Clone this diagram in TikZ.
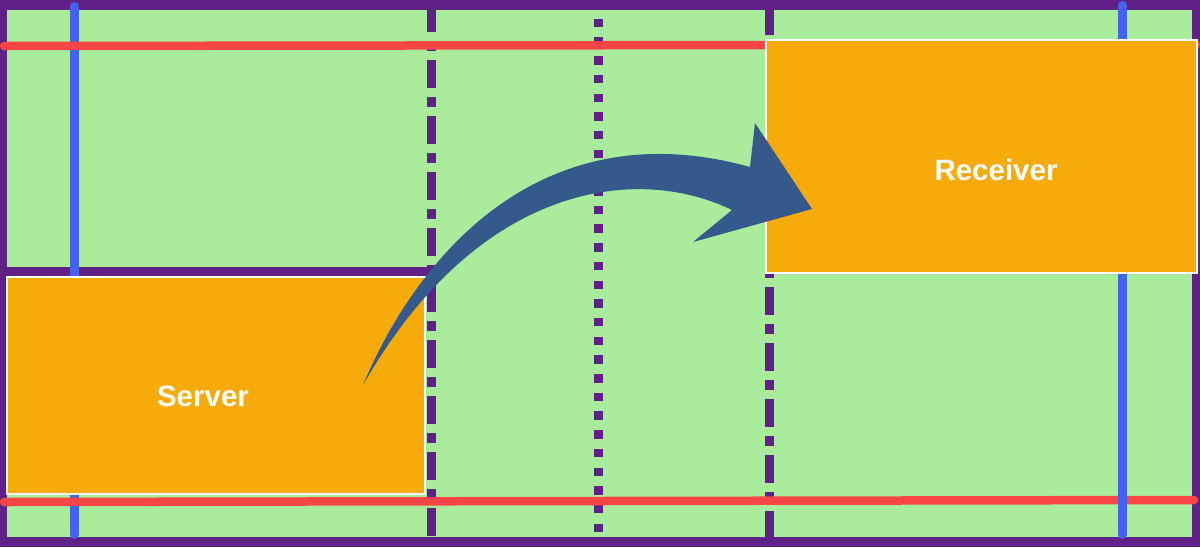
\documentclass[tikz,border=0pt]{standalone}
\usepackage{fontspec}
\setmainfont{Liberation Sans}
\definecolor{cpurple}{RGB}{95,33,133}
\definecolor{cgreen}{RGB}{168,236,156}
\definecolor{corange}{RGB}{247,171,11}
\definecolor{cred}{RGB}{248,70,70}
\definecolor{cblue}{RGB}{66,98,240}
\definecolor{carrow}{RGB}{53,89,138}
\begin{document}
\begin{tikzpicture}[x=1pt,y=-1pt,
  cell/.style={fill=cgreen},
  band/.style={draw=cpurple, line width=9.5pt},
  vdash/.style={draw=cpurple, line width=9pt, dash pattern=on 28pt off 9pt on 10pt off 9pt},
  vdot/.style={draw=cpurple, line width=9pt, dash pattern=on 8.5pt off 10.2pt},
  blueline/.style={draw=cblue, line width=9pt, line cap=round},
  redline/.style={draw=cred, line width=8.5pt, line cap=round},
  box/.style={draw=white, line width=1.5pt, fill=corange, inner sep=0pt, rectangle},
  lbl/.style={text=white, inner sep=0pt, font=\fontsize{29.5}{32}\selectfont\bfseries},
  arrowshape/.style={fill=carrow}]
\useasboundingbox (0,0) rectangle (1200,547);
\fill[cpurple] (0,0) rectangle (1200,547);
\fill[cell] (7,10) rectangle (1192,537);
\draw[band] (0,271.5) -- (433,271.5);
\draw[vdash] (431,4) -- (431,547);
\draw[vdot] (598.5,0) -- (598.5,547);
\draw[vdash] (769,7) -- (769,547);
\draw[blueline] (74.5,6.5) -- (74.5,534.5);
\draw[redline] (4,46) -- (1196,44.5);
\draw[redline] (4,502) -- (1194,500);
\draw[blueline] (1122.5,5.5) -- (1122.5,534.5);
\node[box, minimum width=418pt, minimum height=217pt] (server) at (216,385.5) {};
\node[box, minimum width=431pt, minimum height=233pt] (receiver) at (981.5,156.5) {};
\node[lbl] (serverlbl) at (203,396) {Server};
\node[lbl] (receiverlbl) at (996,170) {Receiver};
\fill[arrowshape] (363,385) .. controls (420,250) and (545,110) .. (750,167)
  -- (755,123) -- (812,209) -- (693,242) -- (732,210)
  .. controls (640,165) and (480,180) .. (363,385) -- cycle;
\end{tikzpicture}
\end{document}
